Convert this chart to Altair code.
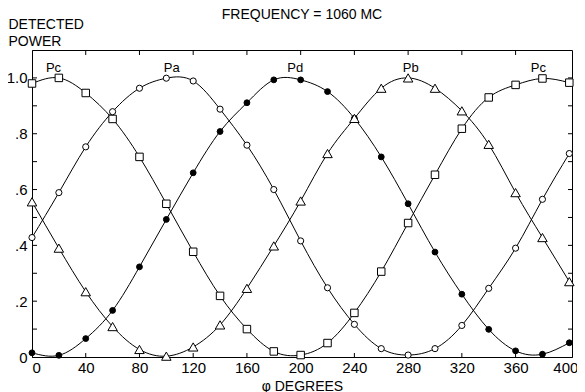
import altair as alt
import pandas as pd

phi = [0, 20, 40, 60, 80, 100, 120, 140, 160, 180, 200, 220, 240, 260, 280, 300, 320, 340, 360, 380, 400]
p_c = [0.98, 1.0, 0.946, 0.853, 0.717, 0.549, 0.377, 0.219, 0.10, 0.02, 0.007, 0.05, 0.158, 0.306, 0.48, 0.653, 0.818, 0.93, 0.975, 0.998, 0.983]
p_a = [0.428, 0.589, 0.753, 0.879, 0.963, 0.999, 0.989, 0.888, 0.759, 0.60, 0.416, 0.248, 0.117, 0.03, 0.007, 0.03, 0.113, 0.246, 0.39, 0.565, 0.729]
p_d = [0.015, 0.006, 0.066, 0.167, 0.323, 0.493, 0.66, 0.808, 0.911, 0.993, 0.993, 0.951, 0.855, 0.717, 0.549, 0.376, 0.225, 0.099, 0.022, 0.01, 0.051]
p_b = [0.556, 0.39, 0.234, 0.109, 0.027, 0.003, 0.036, 0.115, 0.246, 0.398, 0.559, 0.729, 0.855, 0.963, 1.0, 0.963, 0.882, 0.762, 0.589, 0.428, 0.27]

series_names = ["Pc", "Pa", "Pd", "Pb"]
label_text = ["Pc", "Pa", "Pd", "Pb", "Pc"]
label_phi = [16, 104, 196, 282, 377]
label_power = [1.036, 1.036, 1.036, 1.036, 1.036]
title_text = ["FREQUENCY = 1060 MC"]

x_tick_values = [0, 40, 80, 120, 160, 200, 240, 280, 320, 360, 400]
y_tick_values = [0, 0.2, 0.4, 0.6, 0.8, 1.0]
y_minor_values = [0.1, 0.2, 0.3, 0.4, 0.5, 0.6, 0.7, 0.8, 0.9, 1.0]
x_inner_values = [40, 80, 120, 160, 200, 240, 280, 320, 360]

rows = []
for name, vals in zip(series_names, [p_c, p_a, p_d, p_b]):
    for x, y in zip(phi, vals):
        rows.append({"phi": x, "power": y, "series": name})
df = pd.DataFrame(rows)
labels = pd.DataFrame({"phi": label_phi, "power": label_power, "text": label_text})
yt = pd.DataFrame({"power": y_minor_values})
xt = pd.DataFrame({"phi": x_inner_values})
tt = pd.DataFrame({"t": title_text})

W, H = 540, 307
FONT = "Liberation Sans"
xscale = alt.Scale(domain=[0, 402], nice=False, zero=False)
yscale = alt.Scale(domain=[0, 1.1], nice=False)

X = alt.X("phi:Q", scale=xscale, axis=alt.Axis(
    values=x_tick_values, ticks=False, grid=False, labelPadding=3,
    labelFontSize=15, labelFont=FONT, labelColor="black",
    labelOffset={"condition": {"test": "datum.value == 400", "value": -4}, "value": 0},
    domainColor="black", title="\u03c6 DEGREES", titleFont=FONT,
    titleFontSize=14, titleFontWeight="normal", titleColor="black",
    titlePadding=4))
Y = alt.Y("power:Q", scale=yscale, axis=alt.Axis(
    values=y_tick_values, ticks=False, grid=False, labelPadding=5,
    labelFontSize=15, labelFont=FONT, labelColor="black",
    labelExpr="datum.value == 0 ? '0' : (datum.value == 1 ? '1.0' : replace(format(datum.value, '.1f'), '0.', '.'))",
    domainColor="black", title=["DETECTED", "POWER"], titleFont=FONT,
    titleFontSize=14, titleFontWeight="normal", titleColor="black",
    titleAngle=0, titleAlign="left", titleBaseline="alphabetic",
    titleX=-24, titleY=-22, titleLineHeight=17))
Xp = alt.X("phi:Q", scale=xscale)
Yp = alt.Y("power:Q", scale=yscale)

lines = alt.Chart(df).mark_line(interpolate="natural", color="black", strokeWidth=1, clip=True).encode(
    x=X, y=Y, detail="series:N")


def marker(name, shape, size, fill):
    return alt.Chart(df).transform_filter(alt.datum.series == name).mark_point(
        shape=shape, size=size, filled=True, fill=fill, stroke="black", strokeWidth=1, opacity=1
    ).encode(x=Xp, y=Yp)


pts_c = marker("Pc", "square", 56, "white")
pts_a = marker("Pa", "circle", 38, "white")
pts_d = marker("Pd", "circle", 34, "black")
pts_b = marker("Pb", "triangle-up", 90, "white")

text = alt.Chart(labels).mark_text(font=FONT, fontSize=13, color="black").encode(
    x=Xp, y=Yp, text="text:N")

title_mark = alt.Chart(tt).mark_text(font=FONT, fontSize=14, color="black", align="center",
                                      baseline="alphabetic").encode(
    x=alt.value(W / 2), y=alt.value(-31), text="t:N")

left_ticks = alt.Chart(yt).mark_rule(color="black", strokeWidth=1).encode(
    y=Yp, x=alt.value(0), x2=alt.value(5))
right_ticks = alt.Chart(yt).mark_rule(color="black", strokeWidth=1).encode(
    y=Yp, x=alt.value(W), x2=alt.value(W - 4))
top_ticks = alt.Chart(xt).mark_rule(color="black", strokeWidth=1).encode(
    x=Xp, y=alt.value(0), y2=alt.value(5))
bottom_ticks = alt.Chart(xt).mark_rule(color="black", strokeWidth=1).encode(
    x=Xp, y=alt.value(H), y2=alt.value(H - 4))

chart = alt.layer(lines, left_ticks, right_ticks, top_ticks, bottom_ticks,
                  pts_c, pts_a, pts_d, pts_b, text, title_mark).properties(
    width=W, height=H,
    background="white",
    autosize=alt.AutoSizeParams(type="none"),
    padding={"left": 24, "top": 42, "right": 5, "bottom": 36},
).configure_view(stroke="black", strokeWidth=1)

chart.save("out.html", embed_options={"renderer": "svg", "actions": False})
